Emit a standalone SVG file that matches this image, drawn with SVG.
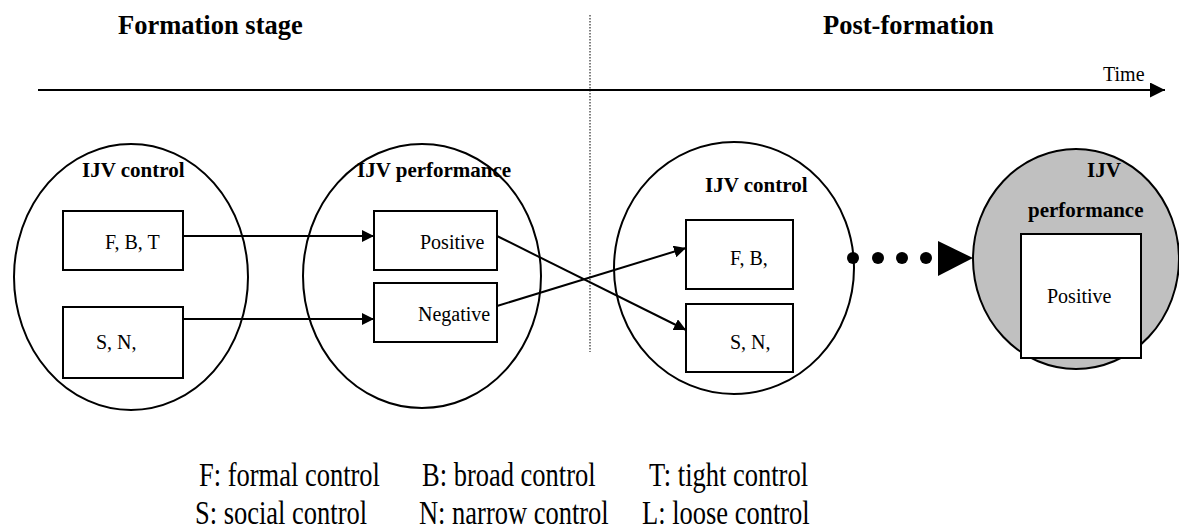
<svg xmlns="http://www.w3.org/2000/svg" width="1179" height="531" viewBox="0 0 1179 531">
<defs>
<style>
.title{font-family:"Liberation Serif","Times New Roman",serif;font-weight:bold;font-size:26.5px;fill:#000}
.lab{font-family:"Liberation Serif","Times New Roman",serif;font-weight:bold;font-size:21px;fill:#000}
.txt{font-family:"Liberation Serif","Times New Roman",serif;font-size:20px;fill:#000}
.leg{font-family:"Liberation Serif","Times New Roman",serif;font-size:26.5px;fill:#000}
.ell{fill:#fff;stroke:#000;stroke-width:2}
.box{fill:#fff;stroke:#000;stroke-width:2}
.conn{fill:none;stroke:#000;stroke-width:2}
</style>
<marker id="ah" viewBox="0 0 10 10" refX="10" refY="5" markerWidth="12" markerHeight="12" markerUnits="userSpaceOnUse" orient="auto">
<path d="M0,0 L10,5 L0,10 z" fill="#000"/>
</marker>
<marker id="ahT" viewBox="0 0 10 10" refX="10" refY="5" markerWidth="15" markerHeight="15" markerUnits="userSpaceOnUse" orient="auto">
<path d="M0,0 L10,5 L0,10 z" fill="#000"/>
</marker>
</defs>
<rect width="1179" height="531" fill="#fff"/>
<text class="title" x="118" y="34">Formation stage</text>
<text class="title" x="823" y="34">Post-formation</text>
<g id="timeline">
<line class="conn" x1="38" y1="90" x2="1165" y2="90" marker-end="url(#ahT)"/>
<text class="txt" x="1103" y="81">Time</text>
</g>
<line x1="590" y1="15" x2="590" y2="352" stroke="#000" stroke-width="1" stroke-dasharray="1.5,1.5"/>
<g id="formation-control">
<ellipse class="ell" cx="131" cy="277" rx="117" ry="133"/>
<text class="lab" x="82" y="177">IJV control</text>
<rect class="box" x="63" y="211" width="120" height="59"/>
<text class="txt" x="105" y="249">F, B, T</text>
<rect class="box" x="63" y="307" width="120" height="71"/>
<text class="txt" x="96" y="349">S, N,</text>
</g>
<g id="formation-performance">
<ellipse class="ell" cx="422" cy="276" rx="119" ry="132"/>
<text class="lab" x="357" y="177">IJV performance</text>
<rect class="box" x="374" y="211" width="123" height="59"/>
<text class="txt" x="420" y="249">Positive</text>
<rect class="box" x="374" y="283" width="123" height="59"/>
<text class="txt" x="418" y="321">Negative</text>
</g>
<g id="post-control">
<ellipse class="ell" cx="734" cy="268" rx="120" ry="126"/>
<text class="lab" x="705" y="192">IJV control</text>
<rect class="box" x="686" y="220" width="107" height="69"/>
<text class="txt" x="730" y="265">F, B,</text>
<rect class="box" x="686" y="304" width="107" height="68"/>
<text class="txt" x="730" y="349">S, N,</text>
</g>
<g id="post-performance">
<ellipse cx="1076" cy="259" rx="103" ry="110" fill="#c0c0c0" stroke="#000" stroke-width="2"/>
<text class="lab" x="1087" y="177">IJV</text>
<text class="lab" x="1028" y="217">performance</text>
<rect class="box" x="1021" y="234" width="120" height="124"/>
<text class="txt" x="1047" y="303">Positive</text>
</g>
<g id="connectors">
<line class="conn" x1="183" y1="236" x2="374" y2="236" marker-end="url(#ah)"/>
<line class="conn" x1="183" y1="319" x2="374" y2="319" marker-end="url(#ah)"/>
<line class="conn" x1="497" y1="236" x2="686" y2="330" marker-end="url(#ah)"/>
<line class="conn" x1="497" y1="306" x2="686" y2="248" marker-end="url(#ah)"/>
<circle cx="853" cy="258" r="6"/>
<circle cx="878" cy="258" r="6"/>
<circle cx="902" cy="258" r="6"/>
<circle cx="926" cy="258" r="6"/>
<path d="M938,241 L973,258 L938,276 z" fill="#000"/>
</g>
<g id="legend">
<text class="leg" transform="translate(199,486) scale(1,1.27)">F: formal control</text>
<text class="leg" transform="translate(422,486) scale(1,1.27)">B: broad control</text>
<text class="leg" transform="translate(649,486) scale(1,1.27)">T: tight control</text>
<text class="leg" transform="translate(195,524) scale(1,1.27)">S: social control</text>
<text class="leg" transform="translate(419,524) scale(1,1.27)">N: narrow control</text>
<text class="leg" transform="translate(642,524) scale(1,1.27)">L: loose control</text>
</g>
</svg>
